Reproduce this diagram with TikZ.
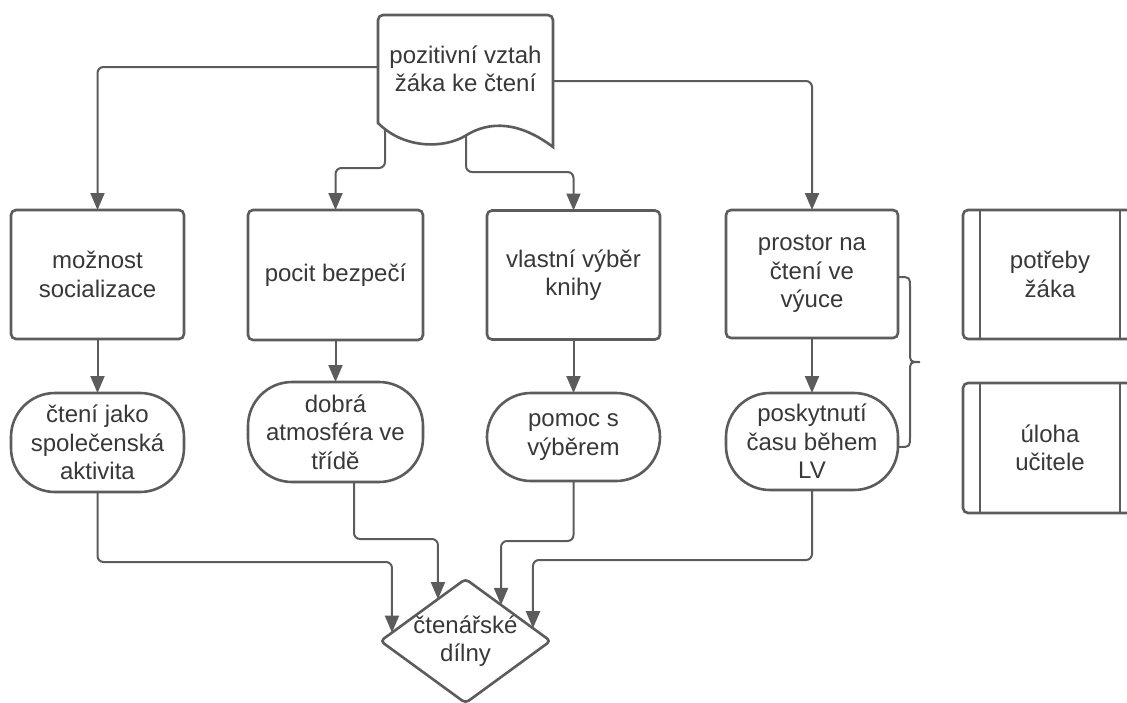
\documentclass[tikz,border=0pt]{standalone}
\usepackage{fontspec}
\setmainfont{Liberation Sans}
\usetikzlibrary{shapes.geometric,arrows.meta,calc}
\definecolor{ln}{HTML}{5C5C5C}
\definecolor{tx}{HTML}{383838}
\begin{document}
\begin{tikzpicture}[x=1pt,y=-1pt,
  every node/.style={font=\fontsize{24}{28.5}\selectfont, text=tx, align=center, inner sep=0pt, outer sep=0pt},
  box/.style={draw=ln, line width=2.6pt, fill=white, rounded corners=5pt, minimum width=173pt, minimum height=129pt},
  term/.style={draw=ln, line width=2.6pt, fill=white, rounded corners=44pt, minimum width=173pt},
  dec/.style={diamond, draw=ln, line width=2.6pt, fill=white, rounded corners=4pt, minimum width=170pt, minimum height=124pt},
  conn/.style={draw=ln, line width=2pt, rounded corners=6pt, -{Triangle[length=17pt,width=14pt]}},
  plain/.style={draw=ln, line width=2.6pt},
  brace/.style={draw=ln, line width=2pt}
  ]
\useasboundingbox (0,0) rectangle (1127,702);
\clip (0,0) rectangle (1127,702);

% boxes
\node[box] (b1) at (97.5,274.5) {možnost\\socializace};
\node[box, minimum width=175pt, minimum height=130pt] (b2) at (335.5,275) {pocit bezpečí};
\node[box] (b3) at (573.5,275) {vlastní výběr\\knihy};
\node[box, minimum width=172pt, minimum height=128pt] (b4) at (812,274) {prostor na\\čtení ve\\výuce};

% terminals
\node[term, minimum height=99pt] (t1) at (97.5,442.5) {čtení jako\\společenská\\aktivita};
\node[term, minimum width=175pt, minimum height=100pt] (t2) at (335.5,432) {dobrá\\atmosféra ve\\třídě};
\node[term, minimum height=88pt] (t3) at (573.5,437) {pomoc s\\výběrem};
\node[term, minimum width=172pt, minimum height=97pt] (t4) at (812,441.5) {poskytnutí\\času během\\LV};

% decision
\node[dec] (d) at (465.5,641) {\makebox[0pt][c]{čtenářské}\\\makebox[0pt][c]{dílny}};

% predefined processes
\node[box, minimum width=174pt] (p1) at (1050,274.5) {potřeby\\žáka};
\node[box, minimum width=174pt, minimum height=130pt] (p2) at (1050,448) {úloha\\učitele};
\draw[plain] ($(p1.north west)+(17,0)$) -- ($(p1.south west)+(17,0)$);
\draw[plain] ($(p1.north east)+(-17,0)$) -- ($(p1.south east)+(-17,0)$);
\draw[plain] ($(p2.north west)+(17,0)$) -- ($(p2.south west)+(17,0)$);
\draw[plain] ($(p2.north east)+(-17,0)$) -- ($(p2.south east)+(-17,0)$);

% connectors from document
\coordinate (dL) at (381,67);
\coordinate (dR) at (550,81);
\coordinate (dB1) at (385,120);
\coordinate (dB2) at (466,125);
\coordinate (k2) at (385,168);
\coordinate (k3) at (466,172);
\draw[conn] (dL) -| (b1.north);
\draw[conn] (dR) -| (b4.north);
\draw[conn] (dB1) -- (k2) -| (b2.north);
\draw[conn] (dB2) -- (k3) -| (b3.north);

% box -> terminal
\draw[conn] (b1.south) -- (t1.north);
\draw[conn] (b2.south) -- (t2.north);
\draw[conn] (b3.south) -- (t3.north);
\draw[conn] (b4.south) -- (t4.north);

% terminal -> decision
\coordinate (d1) at ($(d.west)!0.135!(d.north)$);
\coordinate (d2) at ($(d.west)!0.676!(d.north)$);
\coordinate (d3) at ($(d.north)!0.418!(d.east)$);
\coordinate (d4) at ($(d.north)!0.794!(d.east)$);
\draw[conn] (t1.south) |- (d1 |- 0,562) -- (d1);
\draw[conn] ($(t2.south)+(18.5,0)$) |- (d2 |- 0,539) -- (d2);
\draw[conn] (t3.south) |- (d3 |- 0,541) -- (d3);
\draw[conn] (t4.south) |- (d4 |- 0,560) -- (d4);

% document shape
\draw[plain, fill=white] (378,123) [rounded corners=5pt] -- (378,15) -- (553,15) [sharp corners] -- (553,147)
  .. controls (520,122) and (490,120) .. (465,136)
  .. controls (445,148) and (405,150) .. (378,123) -- cycle;
\node (doc) at (465.5,69) {pozitivní vztah\\žáka ke čtení};

% brace
\draw[brace] (899,277) .. controls (910,277) .. (910,288) -- (910,352)
  .. controls (910,362) .. (920,362) .. controls (910,362) .. (910,372)
  -- (910,436) .. controls (910,447) .. (899,447);
\end{tikzpicture}
\end{document}
